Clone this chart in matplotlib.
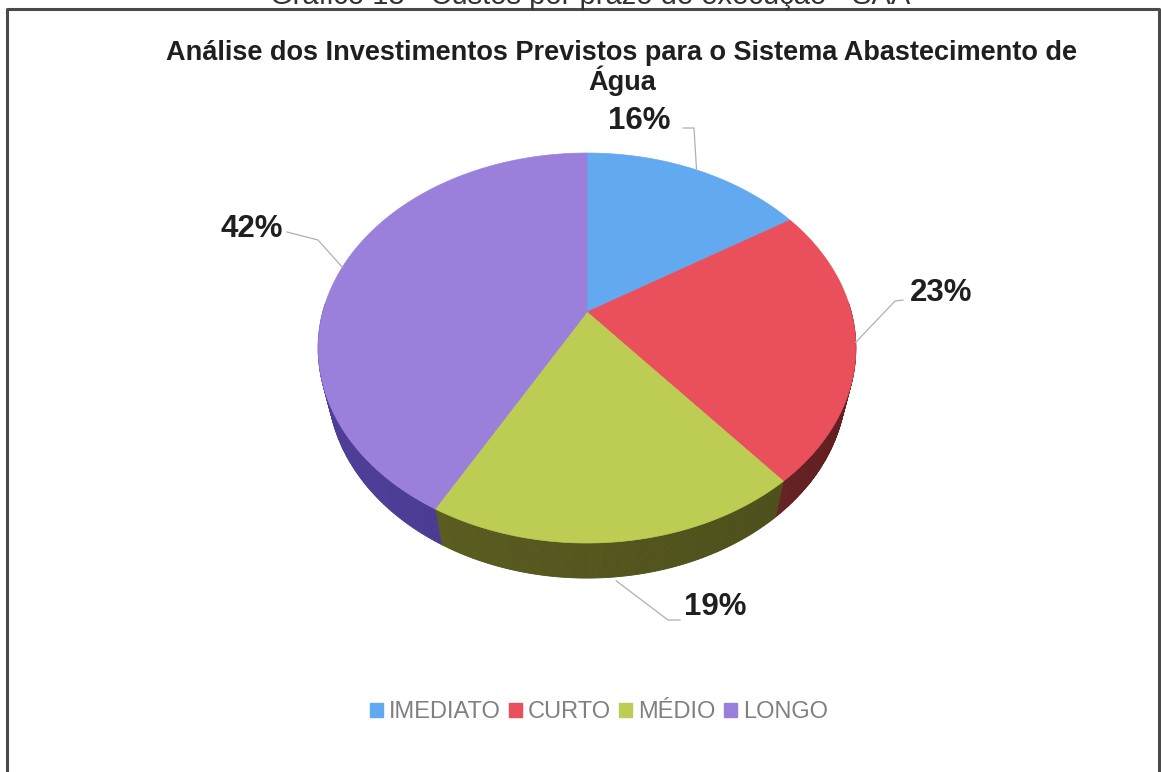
import numpy as np
import matplotlib
matplotlib.use('Agg')
import matplotlib.pyplot as plt
from matplotlib.patches import Polygon

# data
categorias = ['IMEDIATO', 'CURTO', 'MÉDIO', 'LONGO']
percentuais = [16, 23, 19, 42]
cores = ['#62a9f0', '#e9505c', '#bdcc52', '#9a80da']
cores_lado = ['#2f5f90', '#6e2426', '#54561d', '#47388a']
titulo = 'Análise dos Investimentos Previstos para o Sistema Abastecimento de\nÁgua'

plt.rcParams['font.family'] = ['Liberation Sans', 'DejaVu Sans']

fig = plt.figure(figsize=(11.61, 7.72), dpi=100)
ax = fig.add_axes([0, 0, 1, 1])
ax.set_xlim(0, 1161)
ax.set_ylim(772, 0)
ax.axis('off')

# simple perspective projection of a tilted disc
cx, cy = 587, 312
f = 1040.0
sx_fator = 0.982
R = 0.2587
sin_e, cos_e = 0.700, 0.714
h = 0.0514


def projetar(phi, depth=0.0):
    X = R * np.cos(phi)
    Y = R * np.sin(phi)
    v = Y * sin_e - depth * cos_e
    z = 1 + Y * cos_e + depth * sin_e
    return cx + sx_fator * f * X / z, cy - f * v / z


def sombrear(cor, fator):
    rgb = np.array(matplotlib.colors.to_rgb(cor))
    return tuple(np.clip(rgb * fator, 0, 1))


fracs = np.array(percentuais) / sum(percentuais)
cum = np.concatenate([[0], np.cumsum(fracs)])
inicio = np.radians(90 - 360 * cum[:-1])
fim = np.radians(90 - 360 * cum[1:])

# side walls first
for i in range(len(percentuais)):
    phis = np.linspace(inicio[i], fim[i], 200)
    for a, b in zip(phis[:-1], phis[1:]):
        if np.sin((a + b) / 2) > 0.05:
            continue
        p1 = projetar(a); p2 = projetar(b)
        p3 = projetar(b, h); p4 = projetar(a, h)
        m = (a + b) / 2
        fator = 1.0 - 0.12 * np.cos(m)
        c = sombrear(cores_lado[i], fator)
        ax.add_patch(Polygon([p1, p2, p3, p4], closed=True,
                             facecolor=c, edgecolor=c, lw=0.6))

# top faces
for i in range(len(percentuais)):
    phis = np.linspace(inicio[i], fim[i], 200)
    pts = [(cx, cy)] + [projetar(p) for p in phis]
    ax.add_patch(Polygon(pts, closed=True, facecolor=cores[i],
                         edgecolor=cores[i], lw=0.5))

# labels with leader lines
rotulos = [(639, 121), (941, 293), (715, 607), (252, 229)]
cotovelos = [[(683, 128), (694, 128)], [(903, 300), (895, 301)],
             [(680, 620), (668, 620)], [(287, 232), (318, 240)]]
for i in range(len(percentuais)):
    m = (inicio[i] + fim[i]) / 2
    depth = h if np.sin(m) < -0.9 else 0.0
    px, py = projetar(m, depth)
    if depth:
        py += 4
    linha = cotovelos[i] + [(px, py)]
    xs, ys = zip(*linha)
    ax.plot(xs, ys, color='#b0b0b0', lw=0.9)
    ax.text(rotulos[i][0], rotulos[i][1], f'{percentuais[i]}%', ha='center', va='center',
            fontsize=22.5, fontweight='bold', color='#1f1f1f')

ax.text(622, 68, titulo, ha='center', va='center', fontsize=19.5, fontweight='bold',
        color='#1f1f1f', linespacing=1.0)

# legend
handles = [plt.Rectangle((0, 0), 1, 1, color=c) for c in cores]
leg = ax.legend(handles, categorias, loc='center', bbox_to_anchor=(599 / 1161, 1 - 712 / 772),
                ncol=4, frameon=False, fontsize=17, handlelength=0.55, handleheight=0.55,
                handletextpad=0.25, columnspacing=0.35)
for t in leg.get_texts():
    t.set_color('#808080')

# frame of the original document and its cut caption
ax.plot([7, 7, 1159, 1159], [772, 9, 9, 772], color='#4a4a4a', lw=2.2)
ax.text(590, -4, 'Gráfico 13 - Custos por prazo de execução - SAA', ha='center', va='center',
        fontsize=21, color='#333333')

fig.savefig('out.png', dpi=100)
